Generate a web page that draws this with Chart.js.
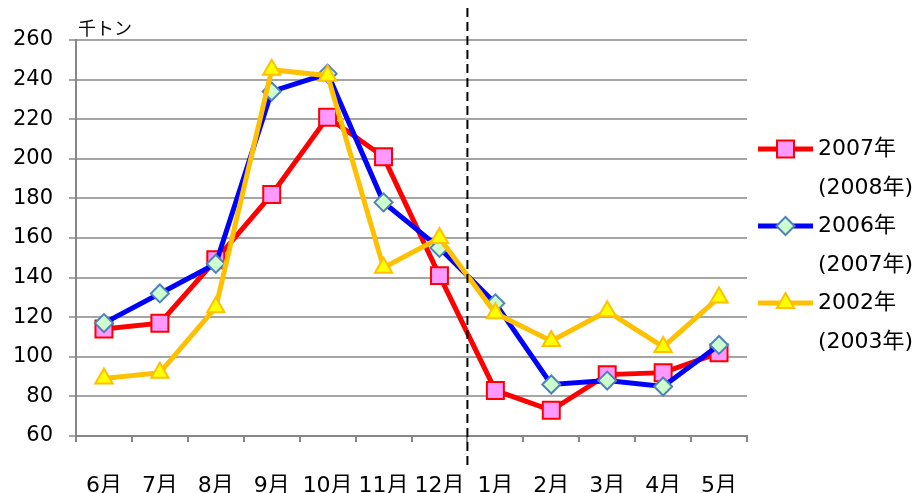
<!DOCTYPE html>
<html lang="ja">
<head>
<meta charset="utf-8">
<title>月別推移</title>
<script src="https://cdn.jsdelivr.net/npm/chart.js@4/dist/chart.umd.min.js"></script>
<style>
  html, body { margin: 0; padding: 0; background: #fff; }
  #wrap { width: 915px; height: 493px; }
</style>
</head>
<body>
<div id="wrap"><canvas id="chart" width="915" height="493"></canvas></div>
<script>
// data (unit: 千トン)
const months = ['6月', '7月', '8月', '9月', '10月', '11月', '12月', '1月', '2月', '3月', '4月', '5月'];
const unitLabel = '千トン';
const yTicks = [60, 80, 100, 120, 140, 160, 180, 200, 220, 240, 260];

const label2007 = ['2007年', '(2008年)'];
const label2006 = ['2006年', '(2007年)'];
const label2002 = ['2002年', '(2003年)'];

const values2007 = [114, 117, 149, 182, 221, 201, 141, 83, 73, 91, 92, 102];
const values2006 = [117, 132, 147, 234, 243, 178, 155, 127, 86, 88, 85, 106];
const values2002 = [89, 92, 125, 245, 242, 145, 160, 122, 108, 123, 105, 130];

// year boundary sits between 12月 and 1月
const splitAfter = '12月';

const fontFamily = '"DejaVu Sans", "Noto Sans CJK JP", sans-serif';
const tickFont = { family: fontFamily, size: 21 };
const xFont = { family: fontFamily, size: 22 };

const series = [
  { label: label2007, data: values2007, color: '#ff0000', fill: '#ff99ff', border: '#ff0000', style: 'rect', radius: 12, bw: 2, order: 3 },
  { label: label2006, data: values2006, color: '#0000ff', fill: '#ccffcc', border: '#4f81bd', style: 'rectRot', radius: 9, bw: 2, order: 2 },
  { label: label2002, data: values2002, color: '#ffc000', fill: '#ffff00', border: '#ffc000', style: 'triangle', radius: 10, bw: 2, order: 1 }
];

const extras = {
  id: 'extras',
  afterDatasetsDraw(chart) {
    const ctx = chart.ctx;
    const x = chart.scales.x;
    const i = months.indexOf(splitAfter);
    const sx = (x.getPixelForValue(i) + x.getPixelForValue(i + 1)) / 2;

    ctx.save();
    // dashed year divider
    ctx.strokeStyle = '#000';
    ctx.lineWidth = 2;
    ctx.setLineDash([9, 5]);
    ctx.beginPath();
    ctx.moveTo(sx, 8);
    ctx.lineTo(sx, 468);
    ctx.stroke();
    ctx.setLineDash([]);

    // unit label
    ctx.fillStyle = '#000';
    ctx.font = '18px "Noto Sans CJK JP", sans-serif';
    ctx.textBaseline = 'middle';
    ctx.textAlign = 'left';
    ctx.fillText(unitLabel, 78, 28);

    // legend: line with marker, two-line text
    const lx0 = 758, lx1 = 813, tx = 818;
    series.forEach((s, k) => {
      const ly = 149 + k * 77;
      ctx.strokeStyle = s.color;
      ctx.lineWidth = 5;
      ctx.beginPath();
      ctx.moveTo(lx0, ly);
      ctx.lineTo(lx1, ly);
      ctx.stroke();
      ctx.fillStyle = s.fill;
      ctx.strokeStyle = s.border;
      ctx.lineWidth = s.bw;
      Chart.helpers.drawPoint(ctx, { pointStyle: s.style, radius: s.radius, borderWidth: s.bw, rotation: 0 }, (lx0 + lx1) / 2, ly);
      ctx.fillStyle = '#000';
      ctx.font = '22px ' + fontFamily;
      ctx.textBaseline = 'middle';
      ctx.fillText(s.label[0], tx, ly);
      ctx.fillText(s.label[1], tx, ly + 39);
    });
    ctx.restore();
  }
};

new Chart(document.getElementById('chart'), {
  type: 'line',
  data: {
    labels: months,
    datasets: series.map(s => ({
      label: s.label.join(''),
      data: s.data,
      borderColor: s.color,
      borderWidth: 5,
      backgroundColor: s.fill,
      pointStyle: s.style,
      pointRadius: s.radius,
      pointBackgroundColor: s.fill,
      pointBorderColor: s.border,
      pointBorderWidth: s.bw,
      tension: 0,
      fill: false,
      order: s.order
    }))
  },
  options: {
    responsive: false,
    animation: false,
    layout: { padding: { top: 40, right: 168, left: 0, bottom: 0 } },
    plugins: { legend: { display: false }, tooltip: { enabled: false } },
    scales: {
      x: {
        type: 'category',
        offset: true,
        grid: { offset: true, drawOnChartArea: false, drawTicks: true, tickLength: 6, color: '#868686', lineWidth: 2 },
        border: { color: '#868686', width: 2 },
        ticks: { color: '#000', font: xFont, padding: 31, autoSkip: false, maxRotation: 0 },
        afterFit(scale) { scale.height = 57; }
      },
      y: {
        min: yTicks[0],
        max: yTicks[yTicks.length - 1],
        afterBuildTicks(scale) { scale.ticks = yTicks.map(v => ({ value: v })); },
        grid: { color: '#a5a5a5', lineWidth: 2, tickLength: 7 },
        border: { color: '#868686', width: 2 },
        ticks: { color: '#000', font: tickFont, padding: 16 },
        afterFit(scale) { scale.width = 76; }
      }
    }
  },
  plugins: [extras]
});
</script>
</body>
</html>
